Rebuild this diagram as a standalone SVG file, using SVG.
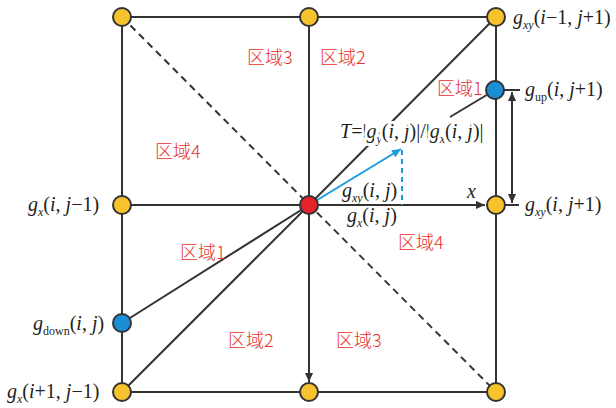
<svg xmlns="http://www.w3.org/2000/svg" width="616" height="408" viewBox="0 0 616 408">
<style>
.ln{stroke:#333;stroke-width:2;fill:none}
.dash{stroke:#333;stroke-width:2;stroke-dasharray:7 5;fill:none}
.bl{stroke:#1a9be0;stroke-width:2;fill:none}
.bdash{stroke:#1a9be0;stroke-width:2;stroke-dasharray:5 4;fill:none}
.nd{stroke:#333;stroke-width:2}
.y{fill:#f8c22d}
.b{fill:#1a8fd6}
.r{fill:#e6232a}
.zh{font-family:"Noto Sans CJK SC",sans-serif;font-size:18px;font-weight:300;fill:#e8302c}
.m{font-family:"Liberation Serif",serif;font-size:20px;fill:#231f20}
.halo{stroke:#fff;stroke-width:6px;stroke-linejoin:round;paint-order:stroke}
.i{font-style:italic}
.s{font-size:12px}
</style>
<defs>
<marker id="ah" viewBox="0 0 10 10" refX="10" refY="5" markerWidth="5" markerHeight="4.5" orient="auto-start-reverse"><path d="M0,0.5 L10,5 L0,9.5 z" fill="#333"/></marker>
<marker id="bh" viewBox="0 0 10 10" refX="10" refY="5" markerWidth="5" markerHeight="4.5" orient="auto"><path d="M0,0.5 L10,5 L0,9.5 z" fill="#1a9be0"/></marker>
</defs>
<g id="connectors">
<rect class="ln" x="122" y="17" width="374" height="375"/>
<line class="ln" x1="309" y1="17" x2="309" y2="205"/>
<line class="ln" x1="122" y1="205" x2="309" y2="205"/>
<line class="ln" x1="309" y1="205" x2="485" y2="205" marker-end="url(#ah)"/>
<line class="ln" x1="309" y1="205" x2="309" y2="382" marker-end="url(#ah)"/>
<line class="dash" x1="122" y1="17" x2="496" y2="392"/>
<line class="ln" x1="309" y1="205" x2="496" y2="17"/>
<line class="ln" x1="309" y1="205" x2="122" y2="323"/>
<line class="ln" x1="309" y1="205" x2="122" y2="392"/>
<line class="ln" x1="450" y1="117" x2="495" y2="90"/>
<line class="bl" x1="309" y1="205" x2="401" y2="149" marker-end="url(#bh)"/>
<line class="bdash" x1="402" y1="150" x2="402" y2="205"/>
<line class="ln" x1="495" y1="90" x2="520" y2="90"/>
<line class="ln" x1="496" y1="205" x2="519" y2="205"/>
<line class="ln" x1="512" y1="92" x2="512" y2="203" marker-start="url(#ah)" marker-end="url(#ah)"/>
</g>
<g id="n-tl"><circle class="nd y" cx="122" cy="17" r="9"/></g>
<g id="n-tm"><circle class="nd y" cx="309" cy="17" r="9"/></g>
<g id="n-tr"><circle class="nd y" cx="496" cy="17" r="9"/><text class="m" x="513" y="24"><tspan class="i">g</tspan><tspan class="s i" dy="5">xy</tspan><tspan dy="-5">(</tspan><tspan class="i">i</tspan>−1, <tspan class="i">j</tspan>+1)</text></g>
<g id="n-up"><circle class="nd b" cx="495" cy="90" r="9"/><text class="m" x="525" y="96"><tspan class="i">g</tspan><tspan class="s" dy="5">up</tspan><tspan dy="-5">(</tspan><tspan class="i">i</tspan>, <tspan class="i">j</tspan>+1)</text></g>
<g id="n-ml"><circle class="nd y" cx="122" cy="205" r="9"/><text class="m" x="28" y="211"><tspan class="i">g</tspan><tspan class="s i" dy="5">x</tspan><tspan dy="-5">(</tspan><tspan class="i">i</tspan>, <tspan class="i">j</tspan>−1)</text></g>
<g id="n-c"><circle class="nd r" cx="309" cy="205" r="9"/></g>
<g id="n-mr"><circle class="nd y" cx="496" cy="205" r="9"/><text class="m" x="525" y="211"><tspan class="i">g</tspan><tspan class="s i" dy="5">xy</tspan><tspan dy="-5">(</tspan><tspan class="i">i</tspan>, <tspan class="i">j</tspan>+1)</text></g>
<g id="n-down"><circle class="nd b" cx="122" cy="323" r="9"/><text class="m" x="33" y="330"><tspan class="i">g</tspan><tspan class="s" dy="5">down</tspan><tspan dy="-5">(</tspan><tspan class="i">i</tspan>, <tspan class="i">j</tspan>)</text></g>
<g id="n-bl"><circle class="nd y" cx="122" cy="392" r="9"/><text class="m" x="7" y="398"><tspan class="i">g</tspan><tspan class="s i" dy="5">x</tspan><tspan dy="-5">(</tspan><tspan class="i">i</tspan>+1, <tspan class="i">j</tspan>−1)</text></g>
<g id="n-bm"><circle class="nd y" cx="309" cy="392" r="9"/></g>
<g id="n-br"><circle class="nd y" cx="496" cy="392" r="9"/></g>
<g id="labels">
<text class="m halo" x="340" y="138"><tspan class="i">T</tspan>=|<tspan class="i">g</tspan><tspan class="s i" dy="5">y</tspan><tspan dy="-5">(</tspan><tspan class="i">i</tspan>, <tspan class="i">j</tspan>)|/|<tspan class="i">g</tspan><tspan class="s i" dy="5">x</tspan><tspan dy="-5">(</tspan><tspan class="i">i</tspan>, <tspan class="i">j</tspan>)|</text>
<text class="m" x="342" y="197"><tspan class="i">g</tspan><tspan class="s i" dy="5">xy</tspan><tspan dy="-5">(</tspan><tspan class="i">i</tspan>, <tspan class="i">j</tspan>)</text>
<text class="m" x="347" y="222"><tspan class="i">g</tspan><tspan class="s i" dy="5">x</tspan><tspan dy="-5">(</tspan><tspan class="i">i</tspan>, <tspan class="i">j</tspan>)</text>
<text class="m i" x="467" y="198">x</text>
<text class="zh" x="247" y="64">区域3</text>
<text class="zh" x="320" y="64">区域2</text>
<text class="zh" x="155" y="158">区域4</text>
<text class="zh" x="437" y="95">区域1</text>
<text class="zh" x="180" y="259">区域1</text>
<text class="zh" x="398" y="249">区域4</text>
<text class="zh" x="228" y="347">区域2</text>
<text class="zh" x="336" y="347">区域3</text>
</g>
</svg>
